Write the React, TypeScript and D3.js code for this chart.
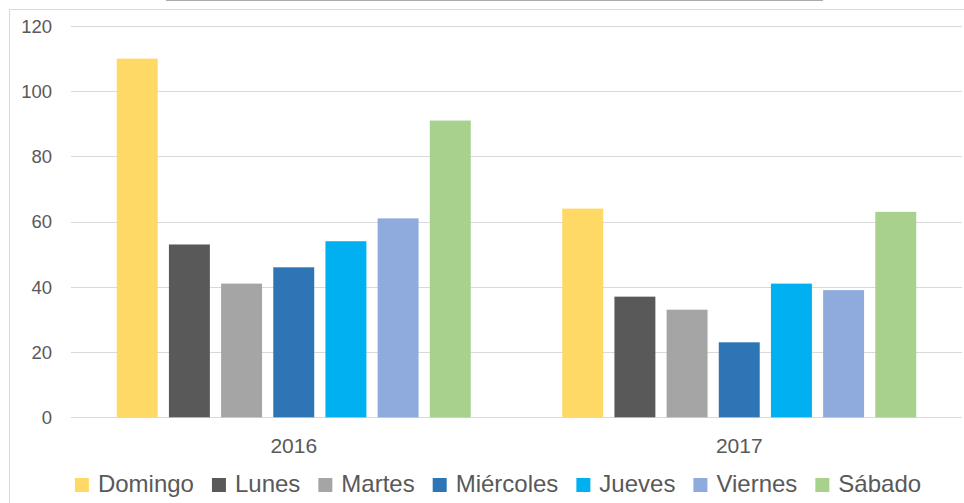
import React, { useEffect, useRef } from 'react';
import * as d3 from 'd3';

const years = ['2016', '2017'];
const days = ['Domingo', 'Lunes', 'Martes', 'Miércoles', 'Jueves', 'Viernes', 'Sábado'];
const dayColors = ['#FFD966', '#595959', '#A5A5A5', '#2E75B6', '#00B0F0', '#8FAADC', '#A9D18E'];
const values2016 = [110, 53, 41, 46, 54, 61, 91];
const values2017 = [64, 37, 33, 23, 41, 39, 63];
const yTicks = [0, 20, 40, 60, 80, 100, 120];

const seriesByYear = [values2016, values2017];

const W = 964;
const H = 503;
const FONT = '"Liberation Sans", Arial, sans-serif';
const TEXT = '#595959';

const App: React.FC = () => {
  const svgRef = useRef<SVGSVGElement>(null);

  useEffect(() => {
    document.body.style.margin = '0';
    if (!svgRef.current) return;
    const svg = d3.select(svgRef.current);
    svg.selectAll('*').remove();

    const plot = { left: 71, right: 962, top: 26, bottom: 417.3 };

    // chart frame
    svg.append('rect').attr('width', W).attr('height', H).attr('fill', '#fff');
    svg.append('line')
      .attr('x1', 9.5).attr('x2', 964).attr('y1', 9.5).attr('y2', 9.5)
      .attr('stroke', '#d9d9d9');
    svg.append('line')
      .attr('x1', 9.5).attr('x2', 9.5).attr('y1', 9.5).attr('y2', H)
      .attr('stroke', '#d9d9d9');
    // stray line at top edge of the screenshot
    svg.append('line')
      .attr('x1', 166).attr('x2', 823).attr('y1', 0.5).attr('y2', 0.5)
      .attr('stroke', '#ababab');

    const y = d3.scaleLinear().domain([0, 120]).range([plot.bottom, plot.top]);
    const x0 = d3.scaleBand().domain(years).range([plot.left, plot.right]).paddingInner(0).paddingOuter(0);
    const groupInner = 354;
    const x1 = d3.scaleBand().domain(days)
      .range([(x0.bandwidth() - groupInner) / 2, (x0.bandwidth() + groupInner) / 2])
      .paddingInner(0.215);

    // gridlines
    svg.append('g').selectAll('line').data(yTicks).join('line')
      .attr('x1', plot.left).attr('x2', plot.right)
      .attr('y1', d => Math.round(y(d)) + 0.5).attr('y2', d => Math.round(y(d)) + 0.5)
      .attr('stroke', '#d9d9d9').attr('stroke-width', 1);

    // y tick labels
    svg.append('g').selectAll('text').data(yTicks).join('text')
      .attr('x', 52).attr('y', d => y(d))
      .attr('dy', '0.36em')
      .attr('text-anchor', 'end')
      .attr('font-family', FONT).attr('font-size', 18.5)
      .attr('fill', TEXT)
      .text(d => d);

    // bars
    years.forEach((yr, gi) => {
      const g = svg.append('g').attr('transform', `translate(${x0(yr)},0)`);
      g.selectAll('rect').data(seriesByYear[gi]).join('rect')
        .attr('x', (_, i) => x1(days[i])!)
        .attr('width', x1.bandwidth())
        .attr('y', d => y(d))
        .attr('height', d => y(0) - y(d))
        .attr('fill', (_, i) => dayColors[i]);
    });

    // x labels
    svg.append('g').selectAll('text').data(years).join('text')
      .attr('x', d => x0(d)! + x0.bandwidth() / 2)
      .attr('y', 453)
      .attr('text-anchor', 'middle')
      .attr('font-family', FONT).attr('font-size', 21)
      .attr('fill', TEXT)
      .text(d => d);

    // legend (flow layout)
    const legendFont = 24;
    const ctx = document.createElement('canvas').getContext('2d')!;
    ctx.font = `${legendFont}px "Liberation Sans"`;
    const sq = 14;
    const textGap = 9;
    const itemGap = 18;
    const widths = days.map(d => sq + textGap + ctx.measureText(d).width);
    const total = d3.sum(widths) + itemGap * (days.length - 1);
    let cx = 498 - total / 2;
    const legend = svg.append('g');
    days.forEach((d, i) => {
      legend.append('rect')
        .attr('x', cx).attr('y', 478).attr('width', sq).attr('height', sq)
        .attr('fill', dayColors[i]);
      legend.append('text')
        .attr('x', cx + sq + textGap).attr('y', 492)
        .attr('font-family', FONT).attr('font-size', legendFont)
        .attr('fill', TEXT)
        .text(d);
      cx += widths[i] + itemGap;
    });
  }, []);

  return <svg ref={svgRef} width={W} height={H} style={{ display: 'block' }} />;
};

export default App;
